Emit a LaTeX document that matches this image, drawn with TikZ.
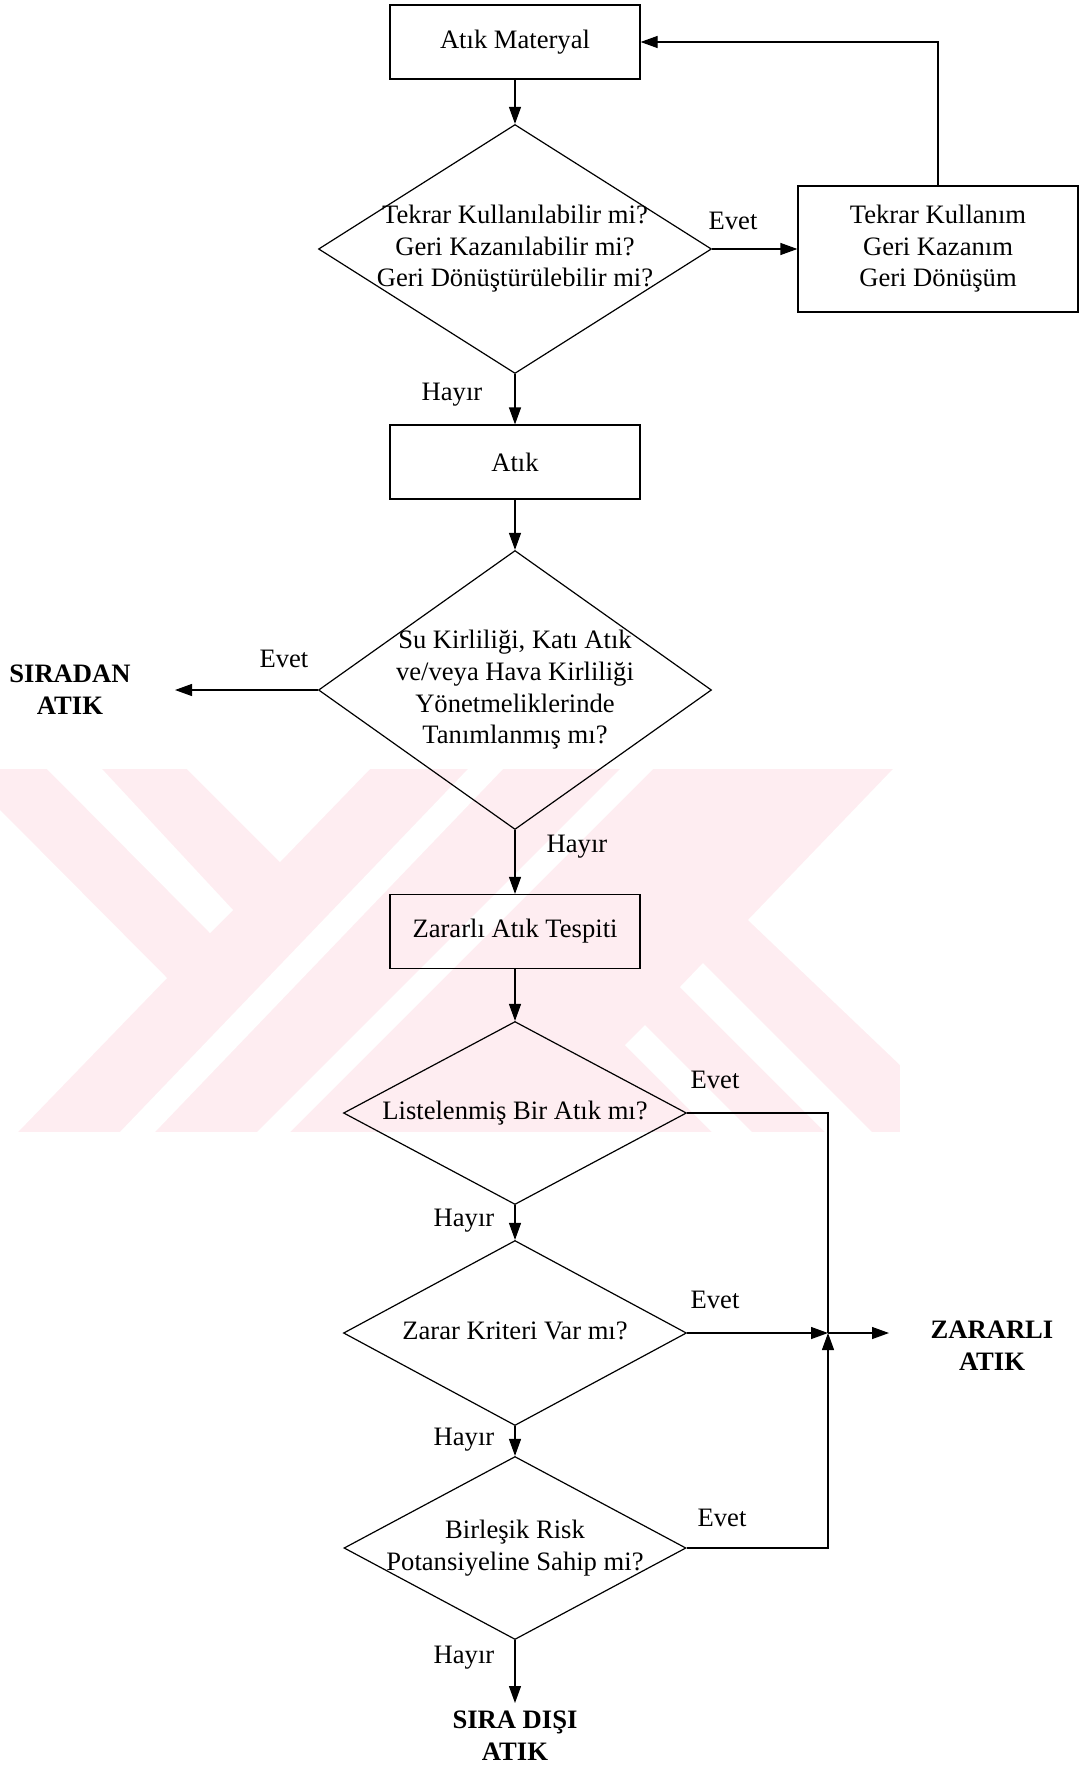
\documentclass[tikz,border=0pt]{standalone}
\usepackage{fontspec}
\setmainfont{Liberation Serif}
\usetikzlibrary{arrows.meta, shapes.geometric}
\definecolor{wmPink}{RGB}{254,237,241}
\newcommand{\dtext}[1]{\makebox[0pt]{\begin{tabular}{@{}c@{}}#1\end{tabular}}}
\tikzset{
  procbox/.style={draw, line width=0.6pt, minimum width=125pt, minimum height=37pt, inner sep=0pt},
  decision/.style={draw, diamond, line width=0.6pt, inner sep=0pt},
  flow/.style={line width=0.6pt, -{Triangle[length=8.5pt,width=6pt]}},
  plain/.style={line width=0.6pt},
  lbl/.style={inner sep=0pt},
  endlbl/.style={inner sep=0pt, align=center, font=\bfseries\fontsize{13.3}{16}\selectfont}
}

\begin{document}
\begin{tikzpicture}[x=0.5pt, y=-0.5pt, font=\fontsize{13.3}{15.8}\selectfont]
\useasboundingbox (0,0) rectangle (1087,1766);
% watermark behind the chart
\fill[wmPink] (0,769) rectangle (900,1132);
\fill[white] (0,810) -- (167,978) -- (18,1132) -- (0,1132) -- cycle;
\fill[white] (47,769) -- (102,769) -- (233,910) -- (210,933) -- cycle;
\fill[white] (187,769) -- (370,769) -- (280,862) -- cycle;
\fill[white] (120,1132) -- (155,1132) -- (503,769) -- (468,769) -- cycle;
\fill[white] (257,1132) -- (290,1132) -- (653,769) -- (620,769) -- cycle;
\fill[white] (893,769) -- (748,920) -- (900,1065) -- (900,769) -- cycle;
\fill[white] (680,987) -- (703,963) -- (872,1132) -- (825,1132) -- cycle;
\fill[white] (625,1045) -- (645,1025) -- (752,1132) -- (712,1132) -- cycle;

% boxes and questions
\node[procbox] (material) at (515,42) {Atık Materyal};
\node[decision, minimum width=196.5pt, minimum height=124.5pt] (reuse) at (515,249)
  {\dtext{Tekrar Kullanılabilir mi?\\Geri Kazanılabilir mi?\\Geri Dönüştürülebilir mi?}};
\node[procbox, minimum width=140pt, minimum height=63pt] (recover) at (938,249)
  {\dtext{Tekrar Kullanım\\Geri Kazanım\\Geri Dönüşüm}};
\node[procbox] (waste) at (515,462) {Atık};
\node[decision, minimum width=196.5pt, minimum height=139.5pt] (regul) at (515,690)
  {\dtext{Su Kirliliği, Katı Atık\\ve/veya Hava Kirliliği\\Yönetmeliklerinde\\Tanımlanmış mı?}};
\node[endlbl] (ordinary) at (70,690) {SIRADAN\\ATIK};
\coordinate (ordend) at (175,690);
\node[procbox] (detect) at (515,931.5) {Zararlı Atık Tespiti};
\node[decision, minimum width=171.5pt, minimum height=91.5pt] (listed) at (515,1113)
  {\dtext{Listelenmiş Bir Atık mı?}};
\node[decision, minimum width=171.5pt, minimum height=92.5pt] (criteria) at (515,1333)
  {\dtext{Zarar Kriteri Var mı?}};
\node[decision, minimum width=171pt, minimum height=91.5pt] (risk) at (515,1548)
  {\dtext{Birleşik Risk\\Potansiyeline Sahip mi?}};
\coordinate (join) at (828,1333);
\coordinate (hazend) at (889,1333);
\node[endlbl] (hazard) at (992,1346) {ZARARLI\\ATIK};
\coordinate (specend) at (515,1703);
\node[endlbl] (special) at (515,1736) {SIRA DIŞI\\ATIK};

% answers
\node[lbl] (evet1) at (733,221) {Evet};
\node[lbl] (hayir1) at (452,395) {Hayır};
\node[lbl] (evet2) at (284,659) {Evet};
\node[lbl] (hayir2) at (577,847) {Hayır};
\node[lbl] (evet3) at (715,1080) {Evet};
\node[lbl] (hayir3) at (464,1221) {Hayır};
\node[lbl] (evet4) at (715,1300) {Evet};
\node[lbl] (hayir4) at (464,1440) {Hayır};
\node[lbl] (evet5) at (722,1518) {Evet};
\node[lbl] (hayir5) at (464,1658) {Hayır};

% connectors
\draw[flow] (material) -- (reuse);
\draw[flow] (reuse) -- (recover);
\draw[flow] (recover.north) |- (material.east);
\draw[flow] (reuse) -- (waste);
\draw[flow] (waste) -- (regul);
\draw[flow] (regul.west) -- (ordend);
\draw[flow] (regul) -- (detect);
\draw[flow] (detect) -- (listed);
\draw[plain] (listed.east) -| (join);
\draw[flow] (listed) -- (criteria);
\draw[flow] (criteria.east) -- (join);
\draw[flow] (risk.east) -| (join);
\draw[flow] (join) -- (hazend);
\draw[flow] (criteria) -- (risk);
\draw[flow] (risk) -- (specend);
\end{tikzpicture}
\end{document}
